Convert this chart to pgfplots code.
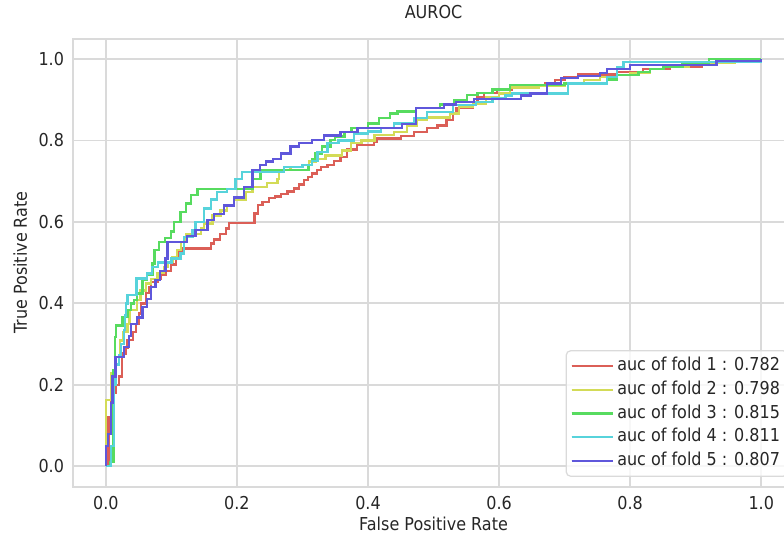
\documentclass[border=0pt]{standalone}
\usepackage{fontspec}
\setmainfont{DejaVu Sans}[FakeStretch=0.9]
\usepackage{pgfplots}
\pgfplotsset{compat=1.18}
\definecolor{c1}{HTML}{DB5F57}
\definecolor{c2}{HTML}{D3DB57}
\definecolor{c3}{HTML}{57DB5F}
\definecolor{c4}{HTML}{57D3DB}
\definecolor{c5}{HTML}{5F57DB}
\definecolor{gridc}{HTML}{DADADA}
\definecolor{txt}{HTML}{262626}
\begin{document}
\begin{tikzpicture}[font=\fontsize{12.8}{15}\selectfont]
\begin{axis}[
  at={(0,0)}, anchor=south west,
  scale only axis, width=519.1pt, height=322.6pt,
  xmin=-0.05, xmax=1.05, ymin=-0.05, ymax=1.05,
  xtick={0,0.2,0.4,0.6,0.8,1.0}, ytick={0,0.2,0.4,0.6,0.8,1.0},
  /pgf/number format/assume math mode=true,
  /pgf/number format/fixed,
  /pgf/number format/fixed zerofill,
  /pgf/number format/precision=1,
  xticklabel style={text=txt, anchor=north, yshift=-3.5pt},
  yticklabel style={text=txt, anchor=east, xshift=-3pt},
  major tick length=0pt, tick style={draw=none},
  grid=major, major grid style={draw=gridc, line width=1.3pt},
  axis line style={draw=gridc, line width=1.3pt},
  title={AUROC}, title style={text=txt, at={(axis description cs:0.5,1)}, anchor=center, yshift=13.4pt},
  xlabel={False Positive Rate}, xlabel style={text=txt, at={(axis description cs:0.5,0)}, anchor=center, yshift=-27pt},
  ylabel={True Positive Rate}, ylabel style={text=txt, at={(axis description cs:0,0.5)}, anchor=center, yshift=38pt},
  every axis plot/.append style={line width=1.7pt, const plot mark left, line join=miter},
  legend image code/.code={\path (0pt,0pt) -- (29.5pt,0pt); \draw[#1, sharp plot] (0pt,0pt) -- (24.5pt,0pt);},
  legend cell align=left,
  legend style={at={(axis description cs:0.6833,0.022)}, anchor=south west,
    draw=gridc, line width=0.9pt, rounded corners=3pt, fill=white, fill opacity=0.8, text opacity=1,
    text=txt, inner xsep=3pt, inner ysep=2pt, row sep=-0.6pt,
    nodes={inner sep=2.5pt, text depth=0.3em}},
]
\addplot[c1] coordinates {(0,0)(0.004,0.12)(0.008,0.18)(0.015,0.2)(0.02,0.22)(0.025,0.277)(0.03,0.29)(0.033,0.31)(0.041,0.33)(0.046,0.35)(0.051,0.375)(0.054,0.40)(0.061,0.425)(0.066,0.44)(0.069,0.453)(0.079,0.46)(0.084,0.469)(0.092,0.48)(0.099,0.495)(0.107,0.514)(0.112,0.525)(0.117,0.535)(0.160,0.547)(0.165,0.557)(0.174,0.571)(0.183,0.584)(0.188,0.598)(0.227,0.621)(0.232,0.641)(0.239,0.649)(0.249,0.658)(0.258,0.662)(0.267,0.668)(0.277,0.675)(0.287,0.682)(0.295,0.692)(0.302,0.703)(0.308,0.71)(0.315,0.719)(0.322,0.727)(0.328,0.735)(0.338,0.74)(0.348,0.75)(0.358,0.76)(0.368,0.778)(0.383,0.789)(0.409,0.797)(0.414,0.805)(0.45,0.811)(0.47,0.821)(0.49,0.83)(0.506,0.837)(0.52,0.85)(0.53,0.866)(0.535,0.879)(0.56,0.895)(0.567,0.906)(0.577,0.917)(0.597,0.924)(0.62,0.928)(0.65,0.935)(0.67,0.94)(0.685,0.948)(0.70,0.955)(0.72,0.962)(0.78,0.968)(0.82,0.975)(0.86,0.981)(0.91,0.99)(0.95,1.0)(1,1)};
\addlegendentry{auc of fold 1 : 0.782}
\addplot[c2] coordinates {(0,0)(0,0.162)(0.0076,0.228)(0.015,0.268)(0.022,0.309)(0.027,0.33)(0.033,0.35)(0.036,0.383)(0.048,0.408)(0.053,0.432)(0.061,0.449)(0.069,0.46)(0.079,0.474)(0.089,0.49)(0.094,0.502)(0.102,0.514)(0.109,0.531)(0.115,0.55)(0.122,0.571)(0.145,0.584)(0.150,0.596)(0.163,0.616)(0.175,0.628)(0.185,0.641)(0.196,0.653)(0.213,0.674)(0.224,0.686)(0.246,0.695)(0.262,0.706)(0.264,0.727)(0.282,0.735)(0.30,0.74)(0.31,0.748)(0.32,0.755)(0.335,0.763)(0.36,0.775)(0.374,0.793)(0.39,0.80)(0.41,0.813)(0.44,0.82)(0.46,0.835)(0.475,0.85)(0.49,0.856)(0.525,0.866)(0.539,0.883)(0.56,0.89)(0.58,0.905)(0.60,0.915)(0.617,0.93)(0.66,0.935)(0.70,0.94)(0.73,0.948)(0.754,0.955)(0.78,0.96)(0.80,0.965)(0.83,0.975)(0.851,0.98)(0.89,0.985)(0.92,0.99)(0.96,0.995)(1,1)};
\addlegendentry{auc of fold 2 : 0.798}
\addplot[c3] coordinates {(0,0)(0.0066,0.01)(0.0117,0.236)(0.0137,0.318)(0.0152,0.346)(0.0254,0.367)(0.033,0.383)(0.038,0.40)(0.043,0.408)(0.048,0.424)(0.056,0.457)(0.063,0.47)(0.071,0.498)(0.074,0.531)(0.081,0.551)(0.09,0.56)(0.099,0.576)(0.104,0.60)(0.114,0.625)(0.122,0.645)(0.130,0.666)(0.140,0.680)(0.224,0.706)(0.236,0.727)(0.309,0.74)(0.315,0.755)(0.32,0.768)(0.33,0.785)(0.343,0.801)(0.35,0.81)(0.364,0.821)(0.375,0.83)(0.40,0.842)(0.417,0.855)(0.434,0.866)(0.445,0.871)(0.473,0.879)(0.51,0.888)(0.531,0.90)(0.551,0.912)(0.567,0.917)(0.59,0.925)(0.617,0.936)(0.70,0.94)(0.765,0.95)(0.780,0.96)(0.813,0.968)(0.83,0.975)(0.851,0.98)(0.88,0.99)(0.92,1.0)(1,1)};
\addlegendentry{auc of fold 3 : 0.815}
\addplot[c4] coordinates {(0,0)(0.008,0.05)(0.012,0.2)(0.015,0.25)(0.020,0.273)(0.023,0.30)(0.028,0.334)(0.029,0.37)(0.031,0.40)(0.033,0.42)(0.047,0.461)(0.063,0.473)(0.07,0.49)(0.08,0.50)(0.10,0.51)(0.114,0.522)(0.119,0.563)(0.132,0.58)(0.137,0.60)(0.150,0.633)(0.16,0.655)(0.170,0.674)(0.185,0.68)(0.198,0.706)(0.208,0.723)(0.272,0.735)(0.30,0.74)(0.315,0.75)(0.323,0.772)(0.338,0.793)(0.355,0.80)(0.379,0.817)(0.40,0.822)(0.42,0.83)(0.44,0.842)(0.47,0.855)(0.49,0.87)(0.53,0.887)(0.565,0.895)(0.59,0.903)(0.61,0.91)(0.62,0.915)(0.705,0.94)(0.765,0.955)(0.78,0.98)(0.79,0.993)(1,1)};
\addlegendentry{auc of fold 4 : 0.811}
\addplot[c5] coordinates {(0,0)(0,0.05)(0.003,0.08)(0.0076,0.155)(0.01,0.22)(0.015,0.268)(0.028,0.293)(0.035,0.32)(0.038,0.35)(0.048,0.365)(0.056,0.391)(0.063,0.41)(0.069,0.44)(0.076,0.457)(0.083,0.48)(0.091,0.51)(0.094,0.551)(0.124,0.565)(0.137,0.58)(0.155,0.605)(0.165,0.62)(0.18,0.64)(0.196,0.66)(0.211,0.686)(0.224,0.727)(0.235,0.74)(0.244,0.748)(0.255,0.755)(0.267,0.768)(0.282,0.785)(0.295,0.793)(0.315,0.801)(0.333,0.812)(0.358,0.821)(0.384,0.830)(0.452,0.84)(0.473,0.879)(0.516,0.888)(0.534,0.895)(0.562,0.901)(0.633,0.91)(0.648,0.915)(0.673,0.94)(0.694,0.953)(0.72,0.958)(0.754,0.965)(0.765,0.975)(0.80,0.985)(0.932,0.995)(1,1)};
\addlegendentry{auc of fold 5 : 0.807}
\end{axis}
\pgfresetboundingbox
\path[use as bounding box] (-52.6pt,-34.9pt) rectangle (511.9pt,350.4pt);
\end{tikzpicture}
\end{document}
